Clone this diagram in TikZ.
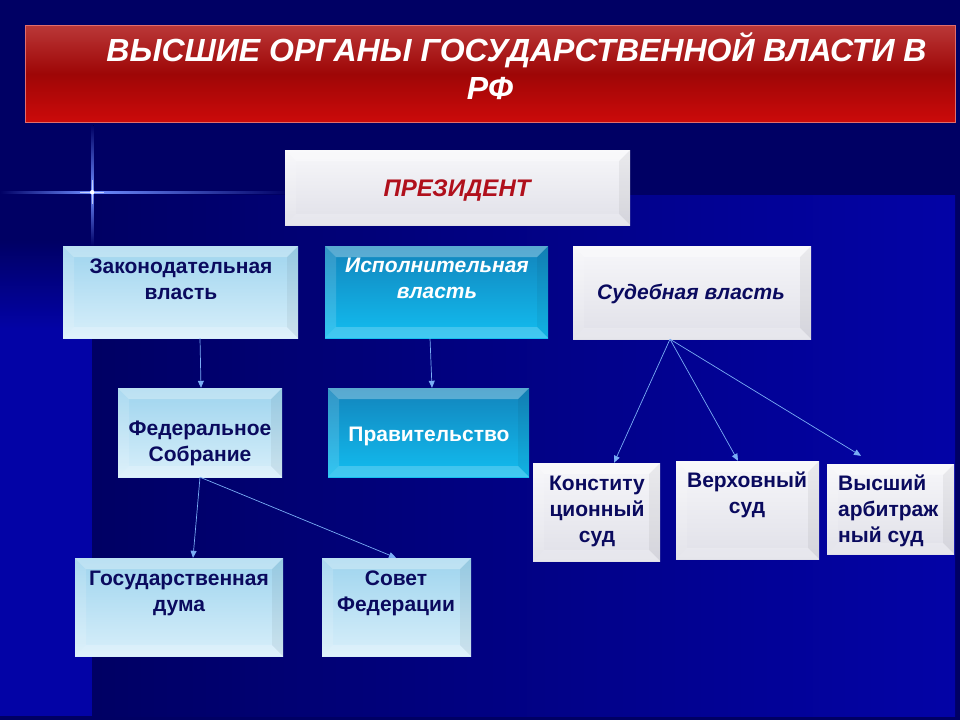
\documentclass[tikz,border=0pt]{standalone}
\usepackage{fontspec}
\setmainfont{Liberation Sans}
\usetikzlibrary{arrows.meta}
\definecolor{bgdark}{HTML}{000064}
\definecolor{bgbright}{HTML}{0303A6}
\definecolor{navytxt}{HTML}{0A0A5E}
\definecolor{prestxt}{HTML}{B0101C}
\definecolor{arrowc}{HTML}{7AAEF5}
\definecolor{lbtop}{HTML}{9ED4EE}
\definecolor{lbbot}{HTML}{D8EFFA}
\definecolor{cytop}{HTML}{1284BC}
\definecolor{cybot}{HTML}{12BDF0}
\definecolor{whtop}{HTML}{F7F7FA}
\definecolor{whbot}{HTML}{E0E0E8}
\definecolor{rtop}{HTML}{BA3838}
\definecolor{rmid}{HTML}{9E0606}
\definecolor{rbot}{HTML}{CC0A0A}
\definecolor{starc}{HTML}{6E8CFF}
\newcommand{\bvw}{11pt}
\tikzset{
  bevel/.style={path picture={
    \path (path picture bounding box.north west) coordinate (pA)
          (path picture bounding box.north east) coordinate (pB)
          (path picture bounding box.south east) coordinate (pC)
          (path picture bounding box.south west) coordinate (pD);
    \fill[white,opacity=.30] (pA) -- (pB) -- ([shift={(-\bvw,-\bvw)}]pB) -- ([shift={(\bvw,-\bvw)}]pA) -- cycle;
    \fill[white,opacity=.14] (pA) -- ([shift={(\bvw,-\bvw)}]pA) -- ([shift={(\bvw,\bvw)}]pD) -- (pD) -- cycle;
    \fill[black,opacity=.05] (pB) -- (pC) -- ([shift={(-\bvw,\bvw)}]pC) -- ([shift={(-\bvw,-\bvw)}]pB) -- cycle;
    \fill[white,opacity=.20] (pD) -- ([shift={(\bvw,\bvw)}]pD) -- ([shift={(-\bvw,\bvw)}]pC) -- (pC) -- cycle;
  }},
  box/.style={rectangle, inner sep=0pt, draw=none, bevel},
  lbox/.style={box, top color=lbtop, bottom color=lbbot},
  cbox/.style={box, top color=cytop, bottom color=cybot},
  wbox/.style={box, top color=whtop, bottom color=whbot},
  tx/.style={inner sep=0pt, anchor=north, yshift=10.7pt, align=center,
    font=\fontsize{21}{26}\selectfont\bfseries},
  tx1/.style={inner sep=0pt, anchor=base, font=\fontsize{21}{26}\selectfont\bfseries},
  arr/.style={draw=arrowc, line width=0.7pt, -{Triangle[length=7pt,width=6pt]}},
}
\begin{document}
\begin{tikzpicture}[x=1pt,y=-1pt]
\useasboundingbox (0,0) rectangle (960,720);
% background
\fill[bgdark] (0,0) rectangle (960,720);
\fill[left color=bgdark, right color=bgbright] (95,195) rectangle (955,716);
\fill[top color=bgdark, bottom color=bgbright] (0,240) rectangle (92,330);
\fill[bgbright] (0,330) rectangle (92,716);
% star glint
\fill[left color=bgdark, right color=starc] (0,191) rectangle (92,193.5);
\fill[left color=starc, right color=bgdark] (92,191) rectangle (290,193.5);
\fill[top color=bgdark, bottom color=starc] (91,125) rectangle (93.5,192);
\fill[top color=starc, bottom color=bgdark] (91,192) rectangle (93.5,246);
\fill[white] (92.2,192.2) circle (2.2pt);
\fill[white,opacity=.6] (80,191.6) rectangle (104,193);
\fill[white,opacity=.6] (91.6,180) rectangle (93,204);

% title
\node[rectangle, minimum width=930pt, minimum height=97pt, draw=rbot!60!white, line width=1pt,
      top color=rtop, bottom color=rbot, middle color=rmid] (title) at (490,73.5) {};
\node[inner sep=0pt, anchor=base, text=white, font=\fontsize{32}{38}\selectfont\bfseries\itshape] (title1) at (516.5,61.5) {ВЫСШИЕ ОРГАНЫ ГОСУДАРСТВЕННОЙ ВЛАСТИ В};
\node[inner sep=0pt, anchor=base, text=white, font=\fontsize{32}{38}\selectfont\bfseries\itshape] (title2) at (490,99.5) {РФ};

% boxes
\node[wbox, minimum width=345pt, minimum height=75pt] (pres) at (457.5,187.5) {};
\node[lbox, minimum width=235pt, minimum height=92pt] (zak) at (180.5,292) {};
\node[cbox, minimum width=223pt, minimum height=92pt] (isp) at (436.5,292) {};
\node[wbox, minimum width=238pt, minimum height=93pt] (sud) at (692,292.5) {};
\node[lbox, minimum width=164pt, minimum height=89pt] (fed) at (200,432.5) {};
\node[cbox, minimum width=201pt, minimum height=89pt] (prav) at (428.5,432.5) {};
\node[wbox, minimum width=127pt, minimum height=98pt] (kons) at (596.5,512) {};
\node[wbox, minimum width=143pt, minimum height=98pt] (verh) at (747.5,510) {};
\node[wbox, minimum width=127pt, minimum height=90pt] (arb) at (890.5,509) {};
\node[lbox, minimum width=208pt, minimum height=98pt] (gd) at (179,607) {};
\node[lbox, minimum width=149pt, minimum height=98pt] (sf) at (396.5,607) {};

% texts
\node[inner sep=0pt, anchor=base, text=prestxt, font=\fontsize{24}{28}\selectfont\bfseries\itshape] (tpres) at (457,196.5) {ПРЕЗИДЕНТ};
\node[tx, text=navytxt] (tzak) at (181,266) {\strut Законодательная\\власть};
\node[tx, text=white, font=\fontsize{21}{26}\selectfont\bfseries\itshape] (tisp) at (437,265) {\strut Исполнительная\\власть};
\node[tx1, text=navytxt, font=\fontsize{21}{26}\selectfont\bfseries\itshape] (tsud) at (691,299.5) {Судебная власть};
\node[tx, text=navytxt] (tfed) at (200,428) {\strut Федеральное\\Собрание};
\node[tx1, text=white] (tprav) at (429,441.5) {Правительство};
\node[tx, text=navytxt] (tkons) at (597,483) {\strut Конститу\\ционный\\суд};
\node[tx, text=navytxt] (tverh) at (747,480) {\strut Верховный\\суд};
\node[tx, text=navytxt, anchor=north west, align=left] (tarb) at (838,483) {\strut Высший\\арбитраж\\ный суд};
\node[tx, text=navytxt] (tgd) at (179,578) {\strut Государственная\\дума};
\node[tx, text=navytxt] (tsf) at (396,578) {\strut Совет\\Федерации};

% connectors
\draw[arr] ([xshift=19.5pt]zak.south) -- ([xshift=1pt]fed.north);
\draw[arr] ([xshift=-6.5pt]isp.south) -- ([xshift=3.5pt]prav.north);
\draw[arr] ([xshift=-22pt]sud.south) -- ([xshift=17.5pt]kons.north);
\draw[arr] ([xshift=-22pt]sud.south) -- ([xshift=-9.5pt]verh.north);
\draw[arr] ([xshift=-22pt]sud.south) -- ([xshift=-29.5pt,yshift=8pt]arb.north);
\draw[arr] (fed.south) -- ([xshift=14pt]gd.north);
\draw[arr] (fed.south) -- ([xshift=-0.5pt]sf.north);
\end{tikzpicture}
\end{document}
